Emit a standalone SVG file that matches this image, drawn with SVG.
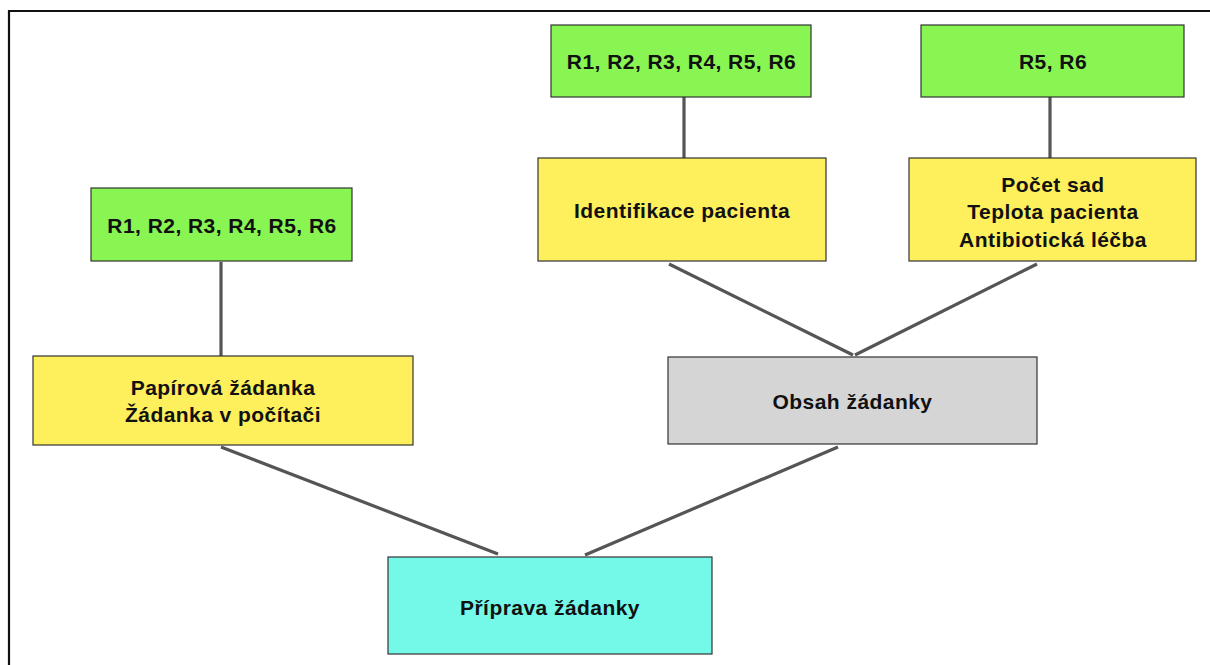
<svg xmlns="http://www.w3.org/2000/svg" width="1210" height="665" viewBox="0 0 1210 665">
<style>
.box{stroke:#333;stroke-width:1.2}
.g{fill:#88F552}
.y{fill:#FEEF5C}
.c{fill:#74F9E9}
.gr{fill:#D5D5D5}
text{font-family:"Liberation Sans",Arial,sans-serif;font-weight:bold;font-size:21px;fill:#111;text-anchor:middle;dominant-baseline:central;letter-spacing:0.45px}
.conn line{stroke:#555;stroke-width:3.2}
</style>
<rect width="1210" height="665" fill="#fff"/>
<path d="M9,665 V11 H1210" fill="none" stroke="#111" stroke-width="2.2"/>
<g class="conn" id="connectors">
<line x1="221" y1="262" x2="221" y2="356"/>
<line x1="684" y1="97" x2="684" y2="158"/>
<line x1="1050" y1="97" x2="1050" y2="158"/>
<line x1="669" y1="264" x2="853" y2="355"/>
<line x1="1037" y1="264" x2="855" y2="355"/>
<line x1="221" y1="447" x2="498" y2="554"/>
<line x1="838" y1="447" x2="585" y2="555"/>
</g>
<g id="r-left"><rect class="box g" x="91" y="188" width="261" height="73"/><text x="222" y="225">R1, R2, R3, R4, R5, R6</text></g>
<g id="r-mid"><rect class="box g" x="551" y="25" width="260" height="72"/><text x="681.5" y="61">R1, R2, R3, R4, R5, R6</text></g>
<g id="r-right"><rect class="box g" x="921" y="25" width="263" height="72"/><text x="1053" y="61">R5, R6</text></g>
<g id="identifikace"><rect class="box y" x="538" y="158" width="288" height="103"/><text x="682" y="210">Identifikace pacienta</text></g>
<g id="pocet"><rect class="box y" x="909" y="158" width="287" height="103"/><text x="1053" y="184">Počet sad</text><text x="1053" y="211.5">Teplota pacienta</text><text x="1053" y="239">Antibiotická léčba</text></g>
<g id="papirova"><rect class="box y" x="33" y="356" width="380" height="89"/><text x="223" y="387">Papírová žádanka</text><text x="223" y="414">Žádanka v počítači</text></g>
<g id="obsah"><rect class="box gr" x="668" y="357" width="369" height="87"/><text x="852.5" y="401">Obsah žádanky</text></g>
<g id="priprava"><rect class="box c" x="388" y="557" width="324" height="97"/><text x="550" y="607">Příprava žádanky</text></g>
</svg>
